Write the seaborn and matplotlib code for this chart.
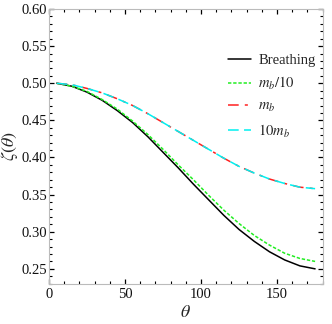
import numpy as np
import matplotlib
matplotlib.use('Agg')
import matplotlib.pyplot as plt
import seaborn as sns
import pandas as pd
from matplotlib.ticker import MultipleLocator

# values
theta = [5, 15, 25, 35, 45, 55, 65, 75, 85, 95, 105, 115, 125, 135, 145, 155, 165, 175]
breathing = [0.500, 0.496, 0.488, 0.477, 0.463, 0.447, 0.428, 0.407, 0.386,
             0.364, 0.343, 0.322, 0.303, 0.287, 0.273, 0.262, 0.254, 0.250]
mb_10 = [0.500, 0.496, 0.489, 0.478, 0.465, 0.449, 0.431, 0.411, 0.390,
         0.370, 0.349, 0.329, 0.311, 0.295, 0.282, 0.271, 0.264, 0.260]
mb = [0.500, 0.498, 0.493, 0.487, 0.479, 0.470, 0.459, 0.447, 0.435,
      0.423, 0.411, 0.399, 0.388, 0.379, 0.371, 0.365, 0.360, 0.358]
mb_x10 = [0.500, 0.498, 0.493, 0.487, 0.479, 0.470, 0.459, 0.447, 0.435,
          0.423, 0.411, 0.399, 0.388, 0.379, 0.371, 0.365, 0.360, 0.358]

labels = ['Breathing', r'$m_b/10$', r'$m_b$', r'$10m_b$']
series = [breathing, mb_10, mb, mb_x10]

df = pd.DataFrame({
    'theta': theta * 4,
    'zeta': sum(series, []),
    'case': sum([[l] * len(theta) for l in labels], []),
})

colors = {labels[0]: 'black', labels[1]: '#22ee22', labels[2]: '#ff2020', labels[3]: '#00f0f0'}
dashes = {labels[0]: '', labels[1]: (2.2, 1.2), labels[2]: (7, 4, 2, 4), labels[3]: (7, 3.5)}

sns.set_theme(style='white')
plt.rcParams['font.family'] = ['Liberation Serif', 'DejaVu Serif']
plt.rcParams['mathtext.fontset'] = 'stix'

fig = plt.figure(figsize=(3.32, 3.24), dpi=100)
ax = fig.add_axes([0.1476, 0.1244, 0.8244, 0.8478])

sns.lineplot(data=df, x='theta', y='zeta', hue='case', style='case',
             hue_order=labels, style_order=labels, palette=colors, dashes=dashes,
             linewidth=1.1, ax=ax, legend=False)

ax.set_xlim(0, 180)
ax.set_ylim(0.23, 0.60)
ax.xaxis.set_major_locator(MultipleLocator(50))
ax.xaxis.set_minor_locator(MultipleLocator(10))
ax.yaxis.set_major_locator(MultipleLocator(0.05))
ax.yaxis.set_minor_locator(MultipleLocator(0.01))
ax.yaxis.set_major_formatter(matplotlib.ticker.FormatStrFormatter('%.2f'))
ax.tick_params(which='both', direction='in', top=True, right=True, bottom=True, left=True,
               color='black', labelsize=10.5, labelcolor='#111111')
ax.tick_params(which='major', length=3.5, width=0.9)
ax.tick_params(which='minor', length=2, width=0.8)
ax.tick_params(axis='y', pad=1.5)
ax.tick_params(axis='x', pad=3)
for s in ax.spines.values():
    s.set_color('#bbbbbb')
    s.set_linewidth(0.8)

ax.set_xlabel(r'$\theta$', fontsize=13, labelpad=2)
ax.set_ylabel(r'$\zeta(\theta)$', fontsize=13, labelpad=1)

ax.legend(ax.get_lines()[:4], labels, loc='upper left', bbox_to_anchor=(0.605, 0.885),
          frameon=False, fontsize=10.5, handlelength=1.6, handletextpad=0.5,
          labelspacing=0.55)

fig.savefig('out.png', dpi=100)
